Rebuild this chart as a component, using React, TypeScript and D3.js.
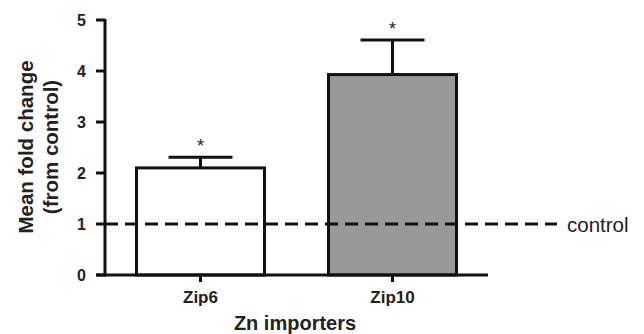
import React from "react";
import { scaleLinear, scaleBand } from "d3";

const categories = ["Zip6", "Zip10"];
const means = [2.1, 3.93];
const errors = [0.21, 0.68];
const fills = ["#ffffff", "#999999"];
const yTicks = [0, 1, 2, 3, 4, 5];
const controlValue = 1;

export default function App() {
  const width = 644;
  const height = 334;
  const x0 = 105;
  const x1 = 488;

  const y = scaleLinear().domain([0, 5]).range([275, 20]);
  const x = scaleBand().domain(categories).range([x0, x1]).paddingInner(1 / 3).paddingOuter(0.164);
  const bw = x.bandwidth();
  const font = "Liberation Sans, Arial, sans-serif";

  return (
    <svg width={width} height={height} style={{ position: "absolute", left: 0, top: 0 }} fontFamily={font}>
      {categories.map((c, i) => {
        const bx = x(c)!;
        const cx = bx + bw / 2;
        const top = y(means[i] + errors[i]);
        return (
          <g key={c}>
            <line x1={cx} x2={cx} y1={y(means[i])} y2={top} stroke="#111" strokeWidth={3} />
            <line x1={cx - bw / 4} x2={cx + bw / 4} y1={top} y2={top} stroke="#111" strokeWidth={3} />
            <rect x={bx} y={y(means[i])} width={bw} height={y(0) - y(means[i])} fill={fills[i]} stroke="#111" strokeWidth={3} />
            <text x={cx} y={top - 5} textAnchor="middle" fontSize={18} fill="#222">*</text>
            <line x1={cx} x2={cx} y1={y(0)} y2={y(0) + 7} stroke="#111" strokeWidth={3} />
            <text x={cx} y={303} textAnchor="middle" fontSize={17} fontWeight="bold" fill="#222">{c}</text>
          </g>
        );
      })}
      <line x1={x0} x2={557} y1={y(controlValue)} y2={y(controlValue)} stroke="#111" strokeWidth={3} strokeDasharray="13 7" />
      <text x={567} y={232} fontSize={20.5} fill="#222">control</text>
      <line x1={x0} x2={x0} y1={y(5) - 1} y2={y(0) + 1.5} stroke="#111" strokeWidth={3} />
      <line x1={x0 - 9} x2={x1} y1={y(0)} y2={y(0)} stroke="#111" strokeWidth={3} />
      {yTicks.map((t) => (
        <g key={t}>
          <line x1={x0 - 9} x2={x0} y1={y(t)} y2={y(t)} stroke="#111" strokeWidth={3} />
          <text x={86} y={y(t) + 6} textAnchor="end" fontSize={16} fontWeight="bold" fill="#222">{t}</text>
        </g>
      ))}
      <text transform={`translate(33,147) rotate(-90)`} textAnchor="middle" fontSize={20.5} fontWeight="bold" fill="#222">Mean fold change</text>
      <text transform={`translate(58,147) rotate(-90)`} textAnchor="middle" fontSize={20.5} fontWeight="bold" fill="#222">(from control)</text>
      <text x={295} y={330} textAnchor="middle" fontSize={20} fontWeight="bold" fill="#222">Zn importers</text>
    </svg>
  );
}
